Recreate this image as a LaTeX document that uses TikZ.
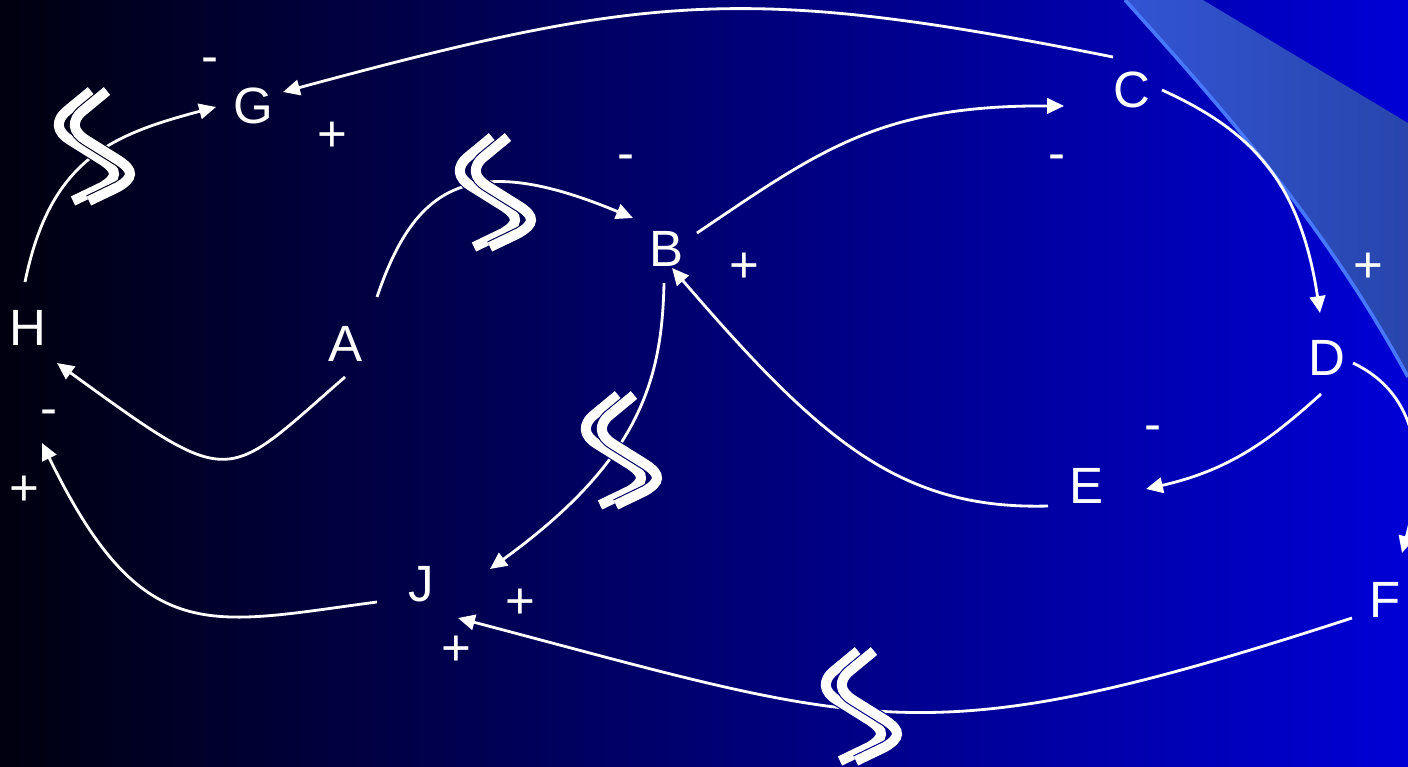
\documentclass[tikz,border=0pt]{standalone}
\usepackage{fontspec}
\setmainfont{Liberation Sans}
\usepackage{xcolor}
\usetikzlibrary{arrows.meta}
\definecolor{bgleft}{RGB}{0,0,15}
\definecolor{bgmid}{RGB}{0,0,112}
\definecolor{bgright}{RGB}{0,0,214}
\definecolor{wedgeleft}{RGB}{50,84,212}
\definecolor{wedgeright}{RGB}{40,70,172}
\definecolor{wedgeedge}{RGB}{72,120,255}

% delay mark: centre x, centre y, blue part of the background there
\newcommand\delaymark[3]{%
  \foreach \dx in {0,16}{
    \draw[shift={(#1+\dx,#2)}, line width=3.5pt, color={rgb,255:red,0;green,0;blue,#3}]
      (3,-54) -- (-20,-35) .. controls (-34,-24) and (-31,-13) .. (-18,-5) -- (14,15)
      .. controls (31,26) and (29,33) .. (14,42) -- (-15,56);
    \draw[shift={(#1+\dx,#2)}, line width=2.85pt, white]
      (3,-54) -- (-20,-35) .. controls (-34,-24) and (-31,-13) .. (-18,-5) -- (14,15)
      .. controls (31,26) and (29,33) .. (14,42) -- (-15,56);
  }
}

\begin{document}
\begin{tikzpicture}[x=0.01cm, y=-0.01cm,
  var/.style={text=white, font=\fontsize{14.5}{17}\selectfont, inner sep=0pt},
  sign/.style={text=white, font=\fontsize{14.5}{17}\selectfont, inner sep=0pt},
  link/.style={white, line width=0.8pt, -{Triangle[length=4.8pt,width=4.4pt]}}]

\useasboundingbox (0,0) rectangle (1408,766);
\clip (0,0) rectangle (1408,766);

% background
\shade[left color=bgleft, middle color=bgmid, right color=bgright] (0,0) rectangle (1408,766);
\shade[left color=wedgeleft, right color=wedgeright] (1125,0) -- (1203,0) -- (1408,123) -- (1408,377)
  .. controls (1320,215) and (1210,95) .. (1125,0);
\draw[wedgeedge, line width=1pt] (1408,377) .. controls (1320,215) and (1210,95) .. (1125,0);

% variables
\node[var] (G) at (253,106) {G};
\node[var] (C) at (1132,90) {C};
\node[var] (B) at (667,249) {B};
\node[var] (A) at (346,344) {A};
\node[var] (H) at (28,328) {H};
\node[var] (D) at (1327,358) {D};
\node[var] (E) at (1086,486) {E};
\node[var] (F) at (1385,600) {F};
\node[var] (J) at (421,584) {J};

% links
\draw[link] ([shift={(-19,-33)}]C.center) .. controls +(-366,-73) and +(366,-99) .. ([shift={(30,-14)}]G.center);
\draw[link] ([shift={(-3,-46)}]H.center) .. controls +(25,-122) and +(-106,28) .. ([shift={(-37,1)}]G.center);
\draw[link] ([shift={(31,-47)}]A.center) .. controls +(38,-112) and +(-163,-68) .. ([shift={(-34,-31)}]B.center);
\draw[link] ([shift={(30,-16)}]B.center) .. controls +(123,-83) and +(-184,-1) .. ([shift={(-68,16)}]C.center);
\draw[link] ([shift={(30,0)}]C.center) .. controls +(88,40) and +(-20,-133) .. ([shift={(-7,-45)}]D.center);
\draw[link] ([shift={(26,5)}]D.center) .. controls +(57,27) and +(28,-103) .. ([shift={(17,-47)}]F.center);
\draw[link] ([shift={(-6,36)}]D.center) .. controls +(-51,46) and +(84,-19) .. ([shift={(60,3)}]E.center);
\draw[link] ([shift={(-38,20)}]E.center) .. controls +(-148,4) and +(148,172) .. ([shift={(5,19)}]B.center);
\draw[link] ([shift={(-3,34)}]B.center) .. controls +(-2,97) and +(150,-109) .. ([shift={(69,-15)}]J.center);
\draw[link] ([shift={(-1,33)}]A.center) .. controls +(-122,106) and +(178,129) .. ([shift={(29,35)}]H.center);
\draw[link] ([shift={(-44,18)}]J.center) .. controls +(-168,22) and +(101,207) .. ([shift={(14,115)}]H.center);
\draw[link] ([shift={(-33,18)}]F.center) .. controls +(-430,140) and +(417,110) .. ([shift={(37,34)}]J.center);

% delays
\delaymark{88}{145}{27}
\delaymark{489}{191}{82}
\delaymark{615}{449}{100}
\delaymark{855}{705}{134}

% polarities
\node[sign] (mG) at (210,66) {-};
\node[sign] (pG) at (332,137) {+};
\node[sign] (mB) at (626,163) {-};
\node[sign] (mC) at (1057,163) {-};
\node[sign] (pB) at (744,268) {+};
\node[sign] (pD) at (1368,268) {+};
\node[sign] (mH) at (49,418) {-};
\node[sign] (pH) at (24,491) {+};
\node[sign] (mE) at (1153,434) {-};
\node[sign] (pJ) at (520,604) {+};
\node[sign] (pJb) at (456,651) {+};
\end{tikzpicture}
\end{document}
